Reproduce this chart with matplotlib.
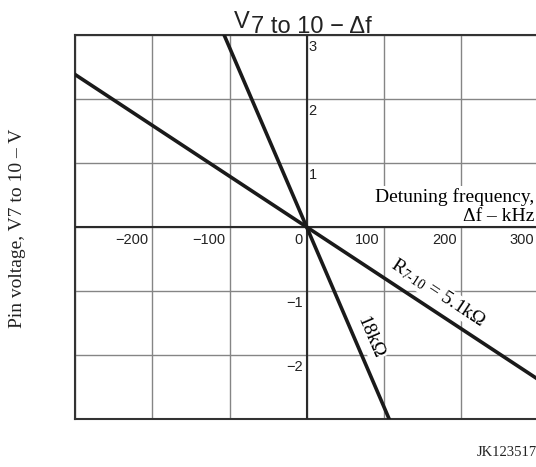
import numpy as np
import matplotlib
matplotlib.use('Agg')
import matplotlib.pyplot as plt

plt.rcParams['font.family'] = ['Liberation Sans', 'DejaVu Sans']
plt.rcParams['mathtext.fontset'] = 'custom'
plt.rcParams['mathtext.rm'] = 'Liberation Serif'
plt.rcParams['mathtext.it'] = 'Liberation Serif:italic'

# Detuning frequency (kHz) vs pin voltage (V) for the two resistor values
freq_5k1 = [-300, 300]
volt_5k1 = [2.38, -2.38]
freq_18k = [-107, 107]
volt_18k = [3.0, -3.0]

x_ticks = [-200, -100, 0, 100, 200, 300]
x_tick_labels = ['\u2212200', '\u2212100', '0', '100', '200', '300']
y_ticks = [3, 2, 1, -1, -2]
y_tick_labels = ['3', '2', '1', '\u22121', '\u22122']

SERIF = ['Liberation Serif', 'DejaVu Serif']
INK = '#1a1a1a'

fig = plt.figure(figsize=(5.36, 4.67), dpi=100)
ax = fig.add_axes([75.3 / 536, 48 / 467, 462.7 / 536, 384 / 467])
ax.set_xlim(-300, 300)
ax.set_ylim(-3, 3)

# grid every 100 kHz / 1 V, no ticks
ax.set_xticks(np.arange(-300, 301, 100))
ax.set_yticks(np.arange(-3, 4, 1))
ax.tick_params(length=0, labelbottom=False, labelleft=False)
ax.grid(True, color='#858585', linewidth=1.0)
for side in ['left', 'top', 'bottom', 'right']:
    ax.spines[side].set_color('#333333')
    ax.spines[side].set_linewidth(1.5)
ax.axhline(0, color='#2a2a2a', linewidth=1.5, zorder=3)
ax.axvline(0, color='#2a2a2a', linewidth=1.5, zorder=3)

ax.plot(freq_5k1, volt_5k1, color=INK, linewidth=2.6, zorder=4)
ax.plot(freq_18k, volt_18k, color=INK, linewidth=2.6, zorder=4)

# tick labels sitting on the axes
for x, lab in zip(x_ticks, x_tick_labels):
    ax.annotate(lab, xy=(x, 0), xytext=(-4, -6), textcoords='offset pixels',
                ha='right', va='top', fontsize=10.5, color='#222222')
for y, lab in zip(y_ticks, y_tick_labels):
    if y > 0:
        ax.annotate(lab, xy=(0, y), xytext=(2, -5), textcoords='offset pixels',
                    ha='left', va='top', fontsize=10.5, color='#222222')
    else:
        ax.annotate(lab, xy=(0, y), xytext=(-4, -5), textcoords='offset pixels',
                    ha='right', va='top', fontsize=10.5, color='#222222')

# axis caption inside the plot
ax.text(295, 0.09, 'Detuning frequency,\n\u0394f \u2013 kHz', family=SERIF,
        fontsize=14, ha='right', va='baseline', multialignment='right',
        linespacing=1.15, zorder=2.5,
        bbox=dict(facecolor='white', edgecolor='none', pad=1.5))

# curve labels, rotated along each line
ang_5k1 = np.degrees(np.arctan2(volt_5k1[1] - volt_5k1[0], freq_5k1[1] - freq_5k1[0]))
ang_18k = np.degrees(np.arctan2(volt_18k[1] - volt_18k[0], freq_18k[1] - freq_18k[0]))
ax.text(170, -1.03, 'R$_{7\\text{-}10}$ = 5.1k\u03a9',
        family=SERIF, fontsize=14, rotation=ang_5k1, transform_rotates_text=True,
        rotation_mode='anchor', ha='center', va='center', zorder=2.5,
        bbox=dict(facecolor='white', edgecolor='none', pad=0.5))
ax.text(82, -1.73, '18k\u03a9', family=SERIF, fontsize=14, rotation=ang_18k,
        transform_rotates_text=True, rotation_mode='anchor', ha='center',
        va='center', zorder=2.5,
        bbox=dict(facecolor='white', edgecolor='none', pad=0.5))

# title: V with the pin numbers set lower
v_txt = fig.text(234 / 536, 1 - 28 / 467, 'V', fontsize=17, ha='left',
                 va='baseline', color='#222222')
ax.annotate('7 to 10 \u2212 \u0394f', xy=(1, 0), xycoords=v_txt,
            xytext=(1, -5), textcoords='offset pixels', ha='left',
            va='bottom', fontsize=17, color='#222222', annotation_clip=False)

fig.text(18 / 536, 1 - 228 / 467, 'Pin voltage, V7 to 10 \u2013 V', family=SERIF,
         fontsize=14, rotation=90, ha='center', va='center', color='#222222')

fig.text(537 / 536, 1 - 453 / 467, 'JK123517', family=SERIF, fontsize=10.5,
         ha='right', va='center', color='#222222')

fig.savefig('out.png', dpi=100)
